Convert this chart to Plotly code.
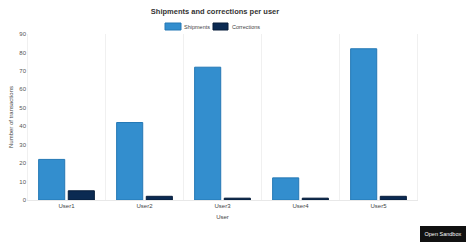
import plotly.graph_objects as go

users = ["User1", "User2", "User3", "User4", "User5"]
shipments = [22, 42, 72, 12, 82]
corrections = [5, 2, 1, 1, 2]
y_ticks = [0, 10, 20, 30, 40, 50, 60, 70, 80, 90]
series_names = ["Shipments", "Corrections"]
series_colors = ["#338ECE", "#0B2A52"]
series_lines = ["#2478B5", "#071D3B"]

W, H = 474, 248
L, R, T, B = 27, 56, 34, 48
PW, PH = W - L - R, H - T - B

fig = go.Figure()
for name, vals, c, lc in zip(series_names, [shipments, corrections], series_colors, series_lines):
    fig.add_trace(go.Bar(name=name, x=users, y=vals,
                         marker=dict(color=c, line=dict(color=lc, width=1))))

font = "Liberation Sans, Arial, sans-serif"
fig.update_layout(
    width=W, height=H,
    margin=dict(l=L, r=R, t=T, b=B, autoexpand=False),
    paper_bgcolor="white", plot_bgcolor="white",
    barmode="group", bargap=0.24, bargroupgap=0.12,
    font=dict(family=font, size=6, color="#555"),
    title=dict(text="<b>Shipments and corrections per user</b>", x=215 / W, xanchor="center",
               y=1 - 11 / H, yanchor="middle", font=dict(size=7.5, color="#333")),
    showlegend=False,
)
fig.update_xaxes(showgrid=False, showline=True, linecolor="#e8e8e8", linewidth=1,
                 ticks="", tickfont=dict(size=6, color="#444"),
                 title=dict(text="User", font=dict(size=6, color="#444"), standoff=6))
fig.update_yaxes(range=[0, 90], tickvals=y_ticks, showgrid=False, zeroline=False,
                 showline=False, ticks="", tickfont=dict(size=6, color="#555"),
                 title=dict(text="Number of transactions", font=dict(size=6, color="#444"), standoff=5))

# vertical separators at category boundaries
for i in range(len(users) + 1):
    fig.add_shape(type="line", xref="x", yref="paper", x0=i - 0.5, x1=i - 0.5, y0=0, y1=1,
                  line=dict(color="#f0f0f0", width=1), layer="below")

# manual legend
def px(xp):
    return (xp - L) / PW
def py(yp):
    return (H - B - yp) / PH

legend_items = [(165, 181, 182), (213, 228, 229.5)]
for (x0, x1, tx), name, c, lc in zip(legend_items, series_names, series_colors, series_lines):
    fig.add_shape(type="rect", xref="paper", yref="paper", x0=px(x0), x1=px(x1),
                  y0=py(30), y1=py(23), fillcolor=c, line=dict(color=lc, width=1))
    fig.add_annotation(text=name, xref="paper", yref="paper", x=px(tx), y=py(26.5),
                       xanchor="left", yanchor="middle", showarrow=False,
                       font=dict(size=5.5, color="#444", family=font))

fig.add_annotation(text="Open Sandbox", xref="paper", yref="paper",
                   x=px(443), y=py(234),
                   xanchor="center", yanchor="middle", showarrow=False,
                   font=dict(size=5.5, color="white", family=font),
                   bgcolor="#111", bordercolor="#111", borderpad=3, width=38, height=8)

fig.write_html("out.html")
